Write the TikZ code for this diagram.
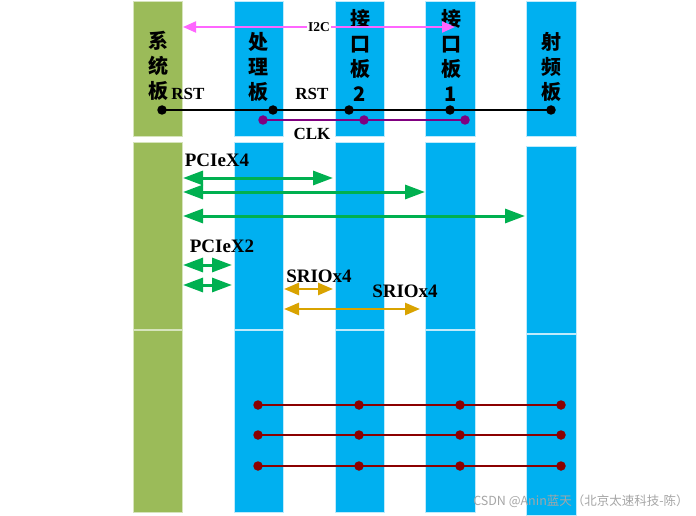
\documentclass[tikz,border=0pt]{standalone}
\usepackage{fontspec}
\setmainfont{Liberation Serif}
\newfontfamily\cjk{Noto Sans CJK SC}
\usetikzlibrary{arrows.meta}
\definecolor{bgreen}{HTML}{9BBB59}
\definecolor{bblue}{HTML}{00B0F0}
\definecolor{bedge}{HTML}{BFEAFB}
\definecolor{gedge}{HTML}{D6E4BC}
\definecolor{i2c}{HTML}{FF66FF}
\definecolor{clk}{HTML}{800080}
\definecolor{pcie}{HTML}{00B050}
\definecolor{srio}{HTML}{D9A300}
\definecolor{dred}{HTML}{8B0000}
\begin{document}
\begin{tikzpicture}[x=1pt,y=-1pt,
  gboard/.style={rectangle,inner sep=0,outer sep=0,fill=bgreen,draw=gedge,line width=1pt},
  bboard/.style={rectangle,inner sep=0,outer sep=0,fill=bblue,draw=bedge,line width=1pt},
  vlabel/.style={inner sep=0,align=center,font=\cjk\bfseries\fontsize{20}{25}\selectfont},
  sig/.style={inner sep=0,font=\bfseries\fontsize{17}{17}\selectfont},
  bigsig/.style={inner sep=0,font=\bfseries\fontsize{19}{19}\selectfont},
  dot/.style={circle,inner sep=0,minimum size=9.5pt,fill=#1},
  garrow/.style={draw=pcie,line width=3pt,{Triangle[length=20pt,width=14pt]}-{Triangle[length=20pt,width=14pt]}},
  oarrow/.style={draw=srio,line width=2.5pt,{Triangle[length=15pt,width=12pt]}-{Triangle[length=15pt,width=12pt]}},
  marrow/.style={draw=i2c,line width=2pt,{Triangle[length=13pt,width=11pt]}-{Triangle[length=13pt,width=11pt]}}
]
\useasboundingbox[fill=white] (0,0) rectangle (696,516);
% boards
\node[gboard,minimum width=49pt,minimum height=135pt] (sysA) at (157.5,69.5) {};
\node[gboard,minimum width=49pt,minimum height=186pt] (sysB) at (157.5,236) {};
\node[gboard,minimum width=49pt,minimum height=182pt] (sysC) at (157.5,421) {};
\node[bboard,minimum width=49pt,minimum height=135pt] (procA) at (258.5,69.5) {};
\node[bboard,minimum width=49pt,minimum height=186pt] (procB) at (258.5,236) {};
\node[bboard,minimum width=49pt,minimum height=182pt] (procC) at (258.5,421) {};
\node[bboard,minimum width=49pt,minimum height=135pt] (ifbA) at (359.5,69.5) {};
\node[bboard,minimum width=49pt,minimum height=186pt] (ifbB) at (359.5,236) {};
\node[bboard,minimum width=49pt,minimum height=182pt] (ifbC) at (359.5,421) {};
\node[bboard,minimum width=50pt,minimum height=135pt] (ifaA) at (450,69.5) {};
\node[bboard,minimum width=50pt,minimum height=186pt] (ifaB) at (450,236) {};
\node[bboard,minimum width=50pt,minimum height=182pt] (ifaC) at (450,421) {};
\node[bboard,minimum width=50pt,minimum height=135pt] (rfA) at (551,69.5) {};
\node[bboard,minimum width=50pt,minimum height=186pt] (rfB) at (551,240) {};
\node[bboard,minimum width=50pt,minimum height=181pt] (rfC) at (551,424.5) {};
% board labels
\node[vlabel] (tsys) at (158,66) {系\\统\\板};
\node[vlabel] (tproc) at (258,67) {处\\理\\板};
\node[vlabel] (tifb) at (360,55) {接\\口\\板\\2};
\node[vlabel] (tifa) at (451,55) {接\\口\\板\\1};
\node[vlabel] (trf) at (551,67) {射\\频\\板};
% I2C
\coordinate (i2cL) at (183,27);
\coordinate (i2cR) at (455,27);
\draw[marrow] (i2cL) -- (i2cR);
\node[fill=white,inner sep=1pt,font=\bfseries\fontsize{13.5}{13.5}\selectfont] (ti2c) at (319,27) {I2C};
% RST
\node[sig] (trst1) at (188,94) {RST};
\node[sig] (trst2) at (312,94) {RST};
\node[dot=black] (r1) at (162,110) {};
\node[dot=black] (r2) at (273,110) {};
\node[dot=black] (r3) at (349,110) {};
\node[dot=black] (r4) at (450,110) {};
\node[dot=black] (r5) at (551,110) {};
\draw[line width=1.8pt,black] (r1.center) -- (r5.center);
% CLK
\node[dot=clk] (c1) at (263,120) {};
\node[dot=clk] (c2) at (364,120) {};
\node[dot=clk] (c3) at (465,120) {};
\draw[line width=1.8pt,clk] (c1.center) -- (c3.center);
\node[sig] (tclk) at (312,134) {CLK};
% PCIe x4
\node[bigsig] (tpx4) at (217,160) {PCIeX4};
\coordinate (pa1) at (183,178); \coordinate (pa2) at (333,178);
\coordinate (pb1) at (183,192); \coordinate (pb2) at (425,192);
\coordinate (pc1) at (183,216); \coordinate (pc2) at (525,216);
\draw[garrow] (pa1) -- (pa2);
\draw[garrow] (pb1) -- (pb2);
\draw[garrow] (pc1) -- (pc2);
% PCIe x2
\node[bigsig] (tpx2) at (222,246) {PCIeX2};
\coordinate (pd1) at (183,265); \coordinate (pd2) at (232,265);
\coordinate (pe1) at (183,285); \coordinate (pe2) at (232,285);
\draw[garrow] (pd1) -- (pd2);
\draw[garrow] (pe1) -- (pe2);
% SRIO
\node[bigsig] (tsr1) at (319,276) {SRIOx4};
\node[bigsig] (tsr2) at (405,291) {SRIOx4};
\coordinate (sa1) at (284,289); \coordinate (sa2) at (333,289);
\coordinate (sb1) at (284,309); \coordinate (sb2) at (420,309);
\draw[oarrow] (sa1) -- (sa2);
\draw[oarrow] (sb1) -- (sb2);
% dark red lines
\foreach \i/\yy in {1/405,2/435,3/466}{
  \node[dot=dred] (d\i a) at (258,\yy) {};
  \node[dot=dred] (d\i b) at (359,\yy) {};
  \node[dot=dred] (d\i c) at (460,\yy) {};
  \node[dot=dred] (d\i d) at (561,\yy) {};
  \draw[line width=2pt,dred] (d\i a.center) -- (d\i d.center);
}
% watermark
\node[inner sep=0,text=black!35,font=\cjk\fontsize{12.5}{12.5}\selectfont] (wm) at (581,501) {CSDN @Anin蓝天（北京太速科技-陈）};
\end{tikzpicture}
\end{document}
